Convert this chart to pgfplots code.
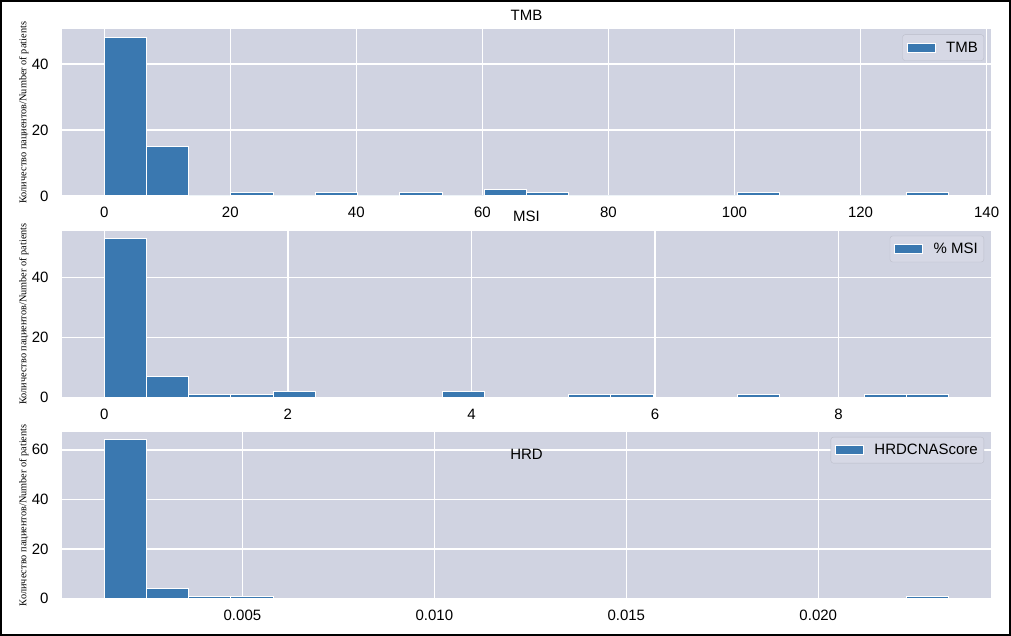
\documentclass[border=0pt]{standalone}
\usepackage{pgfplots}
\pgfplotsset{compat=1.18}
\usepackage{fontspec}
\setmainfont{Liberation Sans}
\newfontfamily\serifru{Liberation Serif}

\definecolor{bgcol}{RGB}{208,211,225}
\definecolor{barblue}{RGB}{58,120,176}
\definecolor{legfill}{RGB}{214,216,229}
\definecolor{legdraw}{RGB}{188,190,202}

\newcommand{\tickfont}{\fontsize{15}{18}\selectfont}

\pgfplotsset{
  histpanel/.style={
    scale only axis,
    width=929pt, height=166.5pt,
    anchor=south west,
    ymin=0,
    axis background/.style={fill=bgcol},
    axis line style={draw=none},
    major tick length=0pt,
    grid=major,
    major grid style={white, line width=1.4pt},
    tick label style={font=\tickfont},
    /pgf/number format/assume math mode=true,
    x tick label style={yshift=-8pt},
    y tick label style={xshift=-10pt},
    scaled x ticks=false,
    ylabel={\serifru\fontsize{10.3}{12}\selectfont Количество пациентов/Number of patients},
    ylabel style={at={(axis description cs:-0.041,0.5)}, anchor=center},
    title style={at={(axis description cs:0.5,1)}, anchor=base, yshift=3pt, font=\tickfont},
    legend style={at={(axis description cs:1,1)}, anchor=north east,
      xshift=-7pt, yshift=-5pt, fill=legfill, draw=legdraw, rounded corners=2.5pt,
      font=\tickfont, inner xsep=4pt, inner ysep=5pt,
      nodes={inner sep=2pt},
      /tikz/every odd column/.append style={column sep=9pt}},
    legend image code/.code={
      \draw[sharp corners, fill=barblue, draw=white, line width=0.6pt] (0pt,-4.5pt) rectangle (28pt,4.5pt);
    },
  },
  histbar/.style={ybar interval, fill=barblue, draw=white, line width=1pt},
}

\begin{document}
\begin{tikzpicture}
\useasboundingbox (0pt,0pt) rectangle (1011pt,636pt);
\draw[black, line width=2pt] (1pt,1pt) rectangle (1010pt,635pt);

% TMB
\begin{axis}[histpanel, at={(62pt,440pt)},
  xmin=-6.7, xmax=140.7, ymax=50.4,
  xtick={0,20,...,140}, ytick={0,20,40},
  title={TMB}]
\addplot[histbar] coordinates {
  (0,48) (6.7,15) (13.4,0) (20.1,1) (26.8,0) (33.5,1) (40.2,0) (46.9,1)
  (53.6,0) (60.3,2) (67.0,1) (73.7,0) (80.4,0) (87.1,0) (93.8,0) (100.5,1)
  (107.2,0) (113.9,0) (120.6,0) (127.3,1) (134.0,0)};
\addlegendentry{TMB}
\end{axis}

% MSI
\begin{axis}[histpanel, at={(62pt,238.7pt)},
  xmin=-0.46, xmax=9.66, ymax=55.65,
  xtick={0,2,...,8}, ytick={0,20,40},
  title={MSI}]
\addplot[histbar] coordinates {
  (0,53) (0.46,7) (0.92,1) (1.38,1) (1.84,2) (2.30,0) (2.76,0) (3.22,0)
  (3.68,2) (4.14,0) (4.60,0) (5.06,1) (5.52,1) (5.98,0) (6.44,0) (6.90,1)
  (7.36,0) (7.82,0) (8.28,1) (8.74,1) (9.20,0)};
\addlegendentry{\% MSI}
\end{axis}

% HRD
\begin{axis}[histpanel, at={(62pt,37.5pt)},
  xmin=0.0003, xmax=0.0245, ymax=67.2,
  xtick={0.005,0.010,0.015,0.020},
  xticklabels={0.005,0.010,0.015,0.020},
  ytick={0,20,40,60},
  title={HRD}, title style={yshift=-37pt}]
\addplot[histbar] coordinates {
  (0.0014,64) (0.0025,4) (0.0036,1) (0.0047,1) (0.0058,0) (0.0069,0)
  (0.0080,0) (0.0091,0) (0.0102,0) (0.0113,0) (0.0124,0) (0.0135,0)
  (0.0146,0) (0.0157,0) (0.0168,0) (0.0179,0) (0.0190,0) (0.0201,0)
  (0.0212,0) (0.0223,1) (0.0234,0)};
\addlegendentry{HRDCNAScore}
\end{axis}
\end{tikzpicture}
\end{document}
